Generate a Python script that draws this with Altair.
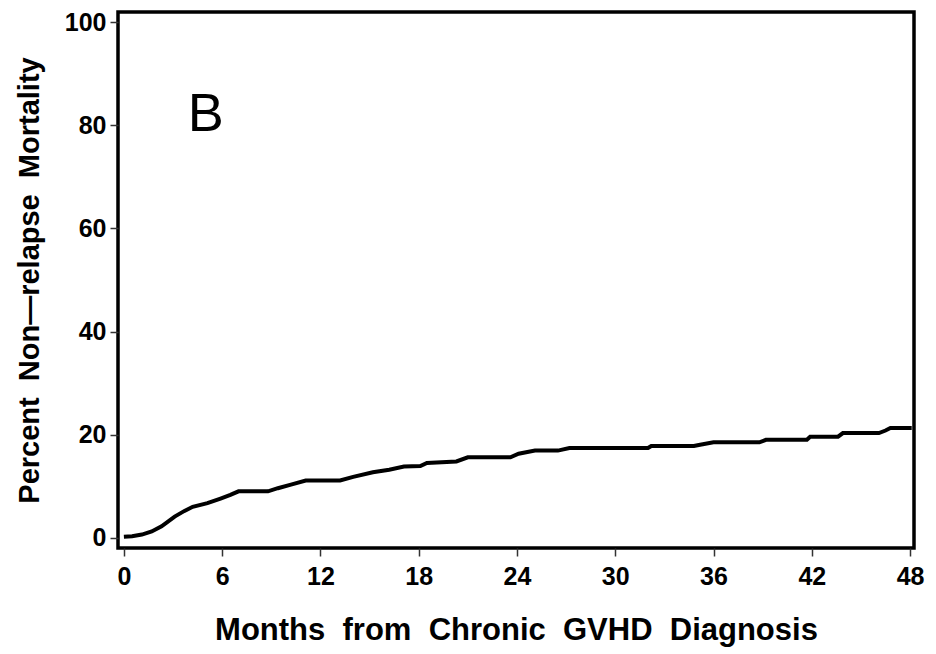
import altair as alt
import pandas as pd

months = [0.0, 0.5, 1.1, 1.7, 2.3, 3.1, 3.7, 4.2, 5.1, 5.9, 6.5, 7.0, 8.8, 9.4, 10.2, 11.1, 13.2, 14.0,
          15.2, 16.2, 17.1, 18.1, 18.5, 20.3, 21.0, 23.6, 24.1, 25.1, 26.5, 27.2, 32.0, 32.2, 34.8,
          35.1, 36.0, 38.8, 39.2, 41.7, 41.9, 43.6, 43.9, 46.1, 46.5, 46.8, 48.1]
nrm = [0.2, 0.3, 0.6, 1.2, 2.2, 4.1, 5.2, 6.0, 6.7, 7.6, 8.3, 9.0, 9.0, 9.6, 10.3, 11.1, 11.1, 11.8,
       12.7, 13.2, 13.8, 13.9, 14.5, 14.8, 15.6, 15.6, 16.3, 16.9, 16.9, 17.4, 17.4, 17.8, 17.8,
       18.0, 18.5, 18.5, 19.0, 19.0, 19.6, 19.6, 20.3, 20.3, 20.8, 21.3, 21.3]

panel_label = ["B"]
panel_x = [5.0]
panel_y = [82.0]

x_ticks = [0, 6, 12, 18, 24, 30, 36, 42, 48]
y_ticks = [0, 20, 40, 60, 80, 100]

df = pd.DataFrame({"month": months, "nrm": nrm})
lab = pd.DataFrame({"label": panel_label, "x": panel_x, "y": panel_y})

FONT = "Liberation Sans"
SP = "\u00a0\u00a0"

xscale = alt.Scale(domain=[-0.36, 48.24], nice=False, zero=False)
yscale = alt.Scale(domain=[-2, 102], nice=False, zero=False)

line = alt.Chart(df).mark_line(color="black", strokeWidth=4, interpolate="linear").encode(
    x=alt.X("month:Q", scale=xscale,
            axis=alt.Axis(values=x_ticks, title=SP.join(["Months", "from", "Chronic", "GVHD", "Diagnosis"]),
                          titleFontSize=31, titleFont=FONT, titleFontWeight="bold", titleColor="black",
                          titlePadding=26, labelFontSize=25, labelFont=FONT, labelFontWeight="bold",
                          labelColor="black", labelPadding=8, tickColor="#333", tickSize=8,
                          tickWidth=1.5, domain=False, grid=False, labelFlush=False)),
    y=alt.Y("nrm:Q", scale=yscale,
            axis=alt.Axis(values=y_ticks, title=SP.join(["Percent", "Non\u2014relapse", "Mortality"]),
                          titleFontSize=29, titleFont=FONT, titleFontWeight="bold", titleColor="black",
                          titlePadding=20, labelFontSize=25, labelFont=FONT, labelFontWeight="bold",
                          labelColor="black", labelPadding=4, tickColor="#333", tickSize=8,
                          tickWidth=1.5, domain=False, grid=False)),
)

text = alt.Chart(lab).mark_text(fontSize=54, font=FONT, color="black", align="center",
                                baseline="middle").encode(
    x=alt.X("x:Q", scale=xscale), y=alt.Y("y:Q", scale=yscale), text="label:N")

chart = (line + text).properties(
    width=796, height=536,
    background="white",
    autosize=alt.AutoSizeParams(type="none"),
    padding={"left": 110, "top": 4, "right": 14, "bottom": 102},
).configure_view(stroke="black", strokeWidth=3.5)

chart.save("out.html", embed_options={"renderer": "svg", "actions": False})
